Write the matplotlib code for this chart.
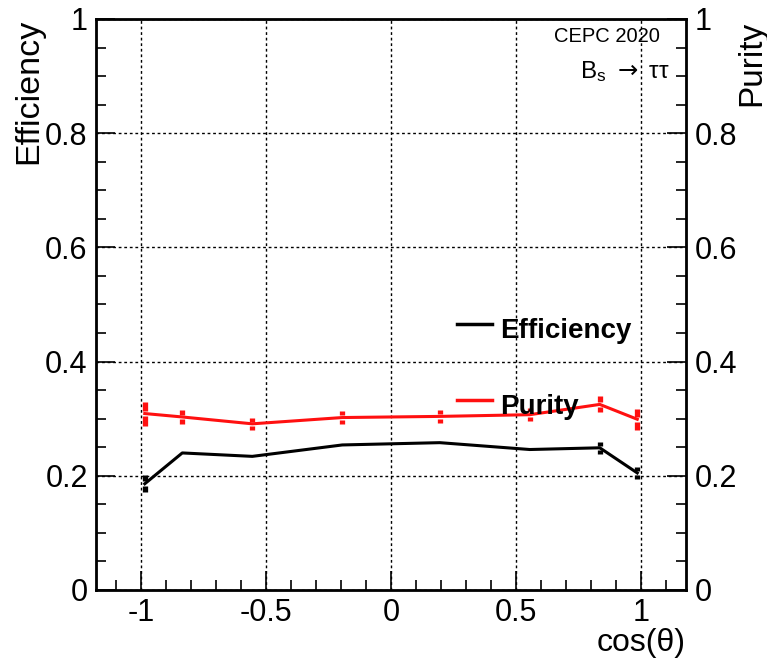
import matplotlib.pyplot as plt

plt.rcParams['font.family'] = ['Liberation Sans', 'DejaVu Sans']

# bin centres in cos(theta)
cos_theta = [-0.985, -0.835, -0.555, -0.195, 0.195, 0.555, 0.835, 0.985]

eff = [0.186, 0.240, 0.234, 0.254, 0.258, 0.246, 0.249, 0.205]
eff_err = [0.015, 0.003, 0.003, 0.003, 0.003, 0.003, 0.010, 0.011]

pur = [0.309, 0.303, 0.291, 0.302, 0.304, 0.307, 0.325, 0.299]
pur_err = [0.021, 0.013, 0.011, 0.011, 0.011, 0.011, 0.014, 0.018]

fig = plt.figure(figsize=(7.67, 6.62), dpi=100)
ax = fig.add_axes([0.1252, 0.1088, 0.7692, 0.8625])


def draw_errors(x, y, err, color):
    gap = 0.004
    for xi, yi, ei in zip(x, y, err):
        if ei <= gap:
            continue
        ax.vlines(xi, yi + gap, yi + ei, color=color, lw=3.8, zorder=3)
        ax.vlines(xi, yi - ei, yi - gap, color=color, lw=3.8, zorder=3)


ax.plot(cos_theta, eff, color='black', lw=2.2, zorder=4, label='Efficiency')
draw_errors(cos_theta, eff, eff_err, 'black')
ax.plot(cos_theta, pur, color='#ff1010', lw=2.2, zorder=4, label='Purity')
draw_errors(cos_theta, pur, pur_err, '#ff1010')

ax.set_xlim(-1.18, 1.18)
ax.set_ylim(0, 1)
ax.set_xticks([-1, -0.5, 0, 0.5, 1])
ax.set_xticklabels(['-1', '-0.5', '0', '0.5', '1'])
ax.set_xticks([i / 10 for i in range(-11, 12)], minor=True)
ax.set_yticks([0, 0.2, 0.4, 0.6, 0.8, 1])
ax.set_yticklabels(['0', '0.2', '0.4', '0.6', '0.8', '1'])
ax.set_yticks([i * 0.05 for i in range(21)], minor=True)
ax.tick_params(which='both', direction='in', labelsize=22, width=1.2,
               top=False, right=False)
ax.tick_params(which='major', length=14)
ax.tick_params(which='minor', length=7)
ax.tick_params(axis='x', pad=6)
ax.tick_params(axis='y', pad=6)
ax.grid(True, which='major', color='black', ls=(0, (2, 2)), lw=1)
for s in ax.spines.values():
    s.set_linewidth(2)

ax2 = ax.twinx()
ax2.set_ylim(0, 1)
ax2.set_yticks([0, 0.2, 0.4, 0.6, 0.8, 1])
ax2.set_yticklabels(['0', '0.2', '0.4', '0.6', '0.8', '1'])
ax2.set_yticks([i * 0.05 for i in range(21)], minor=True)
ax2.tick_params(which='both', direction='in', labelsize=22, width=1.2,
                pad=6)
ax2.tick_params(which='major', length=14)
ax2.tick_params(which='minor', length=7)

fig.text(0.038, 0.972, 'Efficiency', rotation=90, fontsize=24.5,
         ha='center', va='top')
fig.text(0.98, 0.968, 'Purity', rotation=90, fontsize=24,
         ha='center', va='top')
fig.text(0.894, 0.006, 'cos(θ)', fontsize=23, ha='right', va='bottom')

ax.text(0.956, 0.986, 'CEPC 2020', transform=ax.transAxes, fontsize=14.5,
        ha='right', va='top')
ax.text(0.973, 0.93, r'$\mathregular{B_s}$ $\rightarrow$ ττ',
        transform=ax.transAxes, fontsize=17.5, ha='right', va='top')

# legend drawn by hand in axes coordinates
ax.plot([0.612, 0.672], [0.465, 0.465], color='black', lw=2.5,
        transform=ax.transAxes)
ax.text(0.685, 0.453, 'Efficiency', transform=ax.transAxes, fontsize=20,
        fontweight='bold', ha='left', va='center')
ax.plot([0.612, 0.672], [0.333, 0.333], color='#ff1010', lw=2.5,
        transform=ax.transAxes, zorder=5)
ax.text(0.685, 0.32, 'Purity', transform=ax.transAxes, fontsize=20,
        fontweight='bold', ha='left', va='center', zorder=6)

fig.savefig('out.png', dpi=100)
